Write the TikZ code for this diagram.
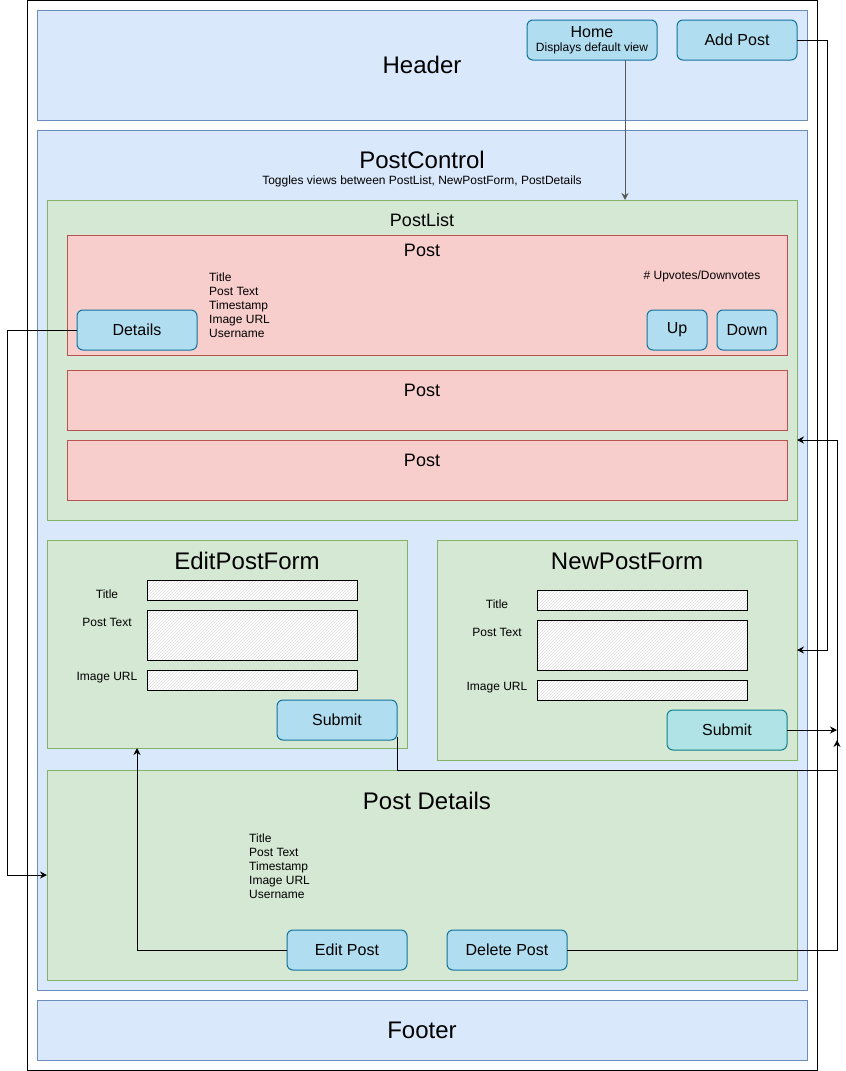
\documentclass[tikz,border=0pt]{standalone}
\usepackage{fontspec}
\setmainfont{Liberation Sans}
\usepackage{tikz}
\usetikzlibrary{arrows.meta, positioning, patterns}
\definecolor{pagefill}{HTML}{DAE8FC}
\definecolor{pageline}{HTML}{6C8EBF}
\definecolor{compfill}{HTML}{D5E8D4}
\definecolor{compline}{HTML}{82B366}
\definecolor{postfill}{HTML}{F8CECC}
\definecolor{postline}{HTML}{B85450}
\definecolor{btnfill}{HTML}{B1DDF0}
\definecolor{btnline}{HTML}{10739E}
\definecolor{tealfill}{HTML}{B0E3E6}
\definecolor{tealline}{HTML}{0E8088}
\tikzstyle{frame} = [rectangle, draw=black, fill=white, line width=1pt, inner sep=0pt, outer sep=0pt]
\tikzstyle{pagebox} = [rectangle, draw=pageline, fill=pagefill, line width=1pt, inner sep=0pt, outer sep=0pt]
\tikzstyle{compbox} = [rectangle, draw=compline, fill=compfill, line width=1pt, inner sep=0pt, outer sep=0pt]
\tikzstyle{postbox} = [rectangle, draw=postline, fill=postfill, line width=1pt, inner sep=0pt, outer sep=0pt, minimum width=720]
\tikzstyle{button} = [rectangle, rounded corners=6pt, draw=btnline, fill=btnfill, line width=1pt, minimum width=120, minimum height=40, inner sep=0pt, outer sep=0pt, font=\fontsize{16}{18}\selectfont]
\tikzstyle{submitbtn} = [button, draw=tealline, fill=tealfill]
\tikzstyle{field} = [rectangle, draw=black, line width=1pt, preaction={fill=white}, pattern=north east lines, pattern color=black!13, minimum width=210, minimum height=20, inner sep=0pt, outer sep=0pt]
\tikzstyle{bigtitle} = [inner sep=0pt, font=\fontsize{24}{28}\selectfont]
\tikzstyle{midtitle} = [inner sep=0pt, font=\fontsize{18}{21}\selectfont]
\tikzstyle{smalltext} = [inner sep=0pt, align=left, font=\fontsize{12}{14}\selectfont]
\tikzstyle{arrow} = [line width=1pt,-{Stealth[length=7pt,width=7pt]}]

\begin{document}
\begin{tikzpicture}[x=1pt, y=-1pt]
    \useasboundingbox (0,0) rectangle (846,1071);

    \node (page) [frame, minimum width=790, minimum height=1070] at (422,535) {};

    % header
    \node (header) [pagebox, minimum width=770, minimum height=110] at (422,65) {};
    \node (headertxt) [bigtitle] at (422,65) {Header};
    \node (home) [button, minimum width=130, align=center] at (592,40) {\raisebox{-2pt}{Home}\\[-2pt]{\fontsize{12}{14}\selectfont Displays default view}};
    \node (addpost) [button, right=20pt of home] {Add Post};

    % post control
    \node (ctrl) [pagebox, minimum width=770, minimum height=860] at (422,560) {};
    \node (ctrltxt) [bigtitle] at (422,160) {PostControl};
    \node (ctrlsub) [smalltext] at (422,181) {Toggles views between PostList, NewPostForm, PostDetails};

    % post list
    \node (plist) [compbox, minimum width=750, minimum height=320] at (422,360) {};
    \node (plisttxt) [midtitle] at (422,220) {PostList};
    \node (post1) [postbox, minimum height=120] at (427,295) {};
    \node (post1txt) [midtitle] at (422,250) {Post};
    \node (post1info) [smalltext, anchor=west] at (209,305) {Title\\Post Text\\Timestamp\\Image URL\\Username};
    \node (votes) [smalltext] at (702,276) {\# Upvotes/Downvotes};
    \node (details) [button] at (137,330) {Details};
    \node (up) [button, minimum width=60] at (677,330) {Up};
    \node (down) [button, minimum width=60, right=10pt of up] {Down};
    \node (post2) [postbox, minimum height=60, below=15pt of post1] {};
    \node (post2txt) [midtitle] at (422,390) {Post};
    \node (post3) [postbox, minimum height=60, below=10pt of post2] {};
    \node (post3txt) [midtitle] at (422,460) {Post};

    % edit form
    \node (editform) [compbox, minimum width=360, minimum height=208] at (227,644) {};
    \node (editformtxt) [bigtitle] at (247,561) {EditPostForm};
    \node (etitle) [field] at (252,590) {};
    \node (etext) [field, minimum height=50, below=10pt of etitle] {};
    \node (eurl) [field, below=10pt of etext] {};
    \node (etitlelbl) [smalltext] at (107,594) {Title};
    \node (etextlbl) [smalltext] at (107,622) {Post Text};
    \node (eurllbl) [smalltext] at (107,678) {Image URL};
    \node (esubmit) [button] at (337,720) {Submit};

    % new form
    \node (newform) [compbox, minimum width=360, minimum height=220] at (617,650) {};
    \node (newformtxt) [bigtitle] at (627,561) {NewPostForm};
    \node (ntitle) [field] at (642,600) {};
    \node (ntext) [field, minimum height=50, below=10pt of ntitle] {};
    \node (nurl) [field, below=10pt of ntext] {};
    \node (ntitlelbl) [smalltext] at (497,604) {Title};
    \node (ntextlbl) [smalltext] at (497,632) {Post Text};
    \node (nurllbl) [smalltext] at (497,688) {Image URL};
    \node (nsubmit) [submitbtn] at (727,730) {Submit};

    % post details
    \node (pdetails) [compbox, minimum width=750, minimum height=210] at (422,875) {};
    \node (pdetailstxt) [bigtitle] at (427,801) {Post Details};
    \node (pdetailsinfo) [smalltext, anchor=west] at (249,866) {Title\\Post Text\\Timestamp\\Image URL\\Username};
    \node (editpost) [button] at (347,950) {Edit Post};
    \node (delpost) [button, right=40pt of editpost] {Delete Post};

    % footer
    \node (footer) [pagebox, minimum width=770, minimum height=60] at (422,1030) {};
    \node (footertxt) [bigtitle] at (422,1030) {Footer};

    \draw [arrow, draw=black!65] ([xshift=33pt]home.south) -- ([xshift=33pt]home.south |- plist.north);
    \draw [arrow] (addpost.east) -- ++(30,0) |- (newform.east);
    \draw [arrow] ([yshift=3pt]esubmit.south east) -- ++(0,33) -- ++(440,0) |- (plist.east |- post3.north);
    \draw [arrow] (nsubmit.east) -- ++(50,0);
    \draw [arrow] (delpost.east) -- ++(270,0) -- ++(0,-210);
    \draw [arrow] (details.west) -- ++(-70,0) |- (pdetails.west);
    \draw [arrow] (editpost.west) -| ([xshift=-90pt]editform.south);
\end{tikzpicture}
\end{document}
